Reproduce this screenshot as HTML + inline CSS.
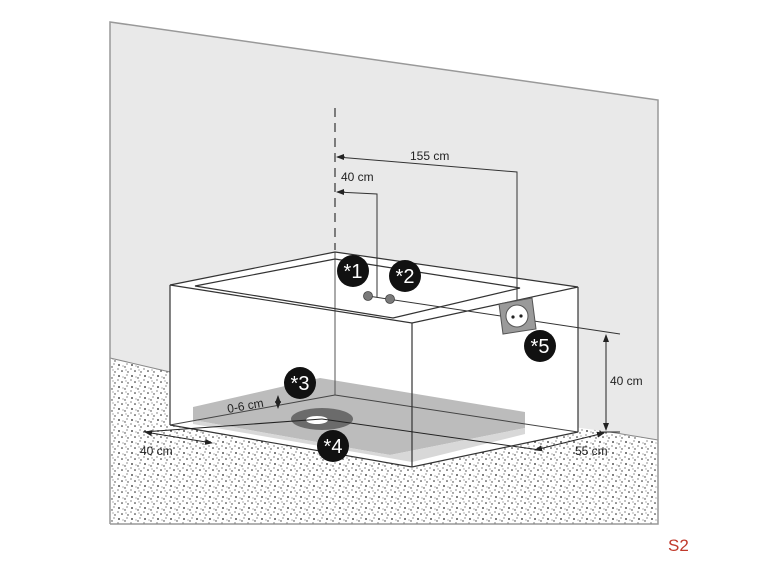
<!DOCTYPE html>
<html><head><style>
html,body{margin:0;padding:0;background:#fff;}
svg{display:block;}
text{font-family:"Liberation Sans",sans-serif;}
</style></head><body>
<svg width="770" height="578" viewBox="0 0 770 578" xmlns="http://www.w3.org/2000/svg">
<defs>
<pattern id="sp" width="13" height="11" patternUnits="userSpaceOnUse">
<rect width="13" height="11" fill="#fff"/>
<circle cx="2" cy="2" r="0.9" fill="#222"/>
<circle cx="8" cy="4" r="0.7" fill="#333"/>
<circle cx="5" cy="8" r="0.8" fill="#222"/>
<circle cx="11" cy="9" r="0.7" fill="#333"/>
<circle cx="10" cy="1" r="0.6" fill="#444"/>
<circle cx="1" cy="6" r="0.6" fill="#333"/>
<circle cx="6" cy="3" r="0.5" fill="#444"/>
<circle cx="9" cy="7" r="0.5" fill="#333"/>
</pattern>
<marker id="ar" markerWidth="8" markerHeight="8" refX="7" refY="4" orient="auto-start-reverse" markerUnits="userSpaceOnUse"><path d="M0,1 L8,4 L0,7 z" fill="#222"/></marker>
</defs>
<rect x="110" y="340" width="548" height="184" fill="url(#sp)"/>
<polygon points="110,22 658,100 658,440 610,432 170,372 110,358" fill="#e9e9e9"/>
<line x1="110" y1="358" x2="170" y2="372" stroke="#888" stroke-width="1"/>
<line x1="610" y1="432" x2="658" y2="440" stroke="#888" stroke-width="1"/>
<polyline points="110,524 110,22 658,100 658,524 110,524" fill="none" stroke="#999" stroke-width="1.5"/>
<polygon points="170,285 335,252 578,287 578,432 412,467 170,425" fill="#fff"/>
<polygon points="193,407 320,378 525,412 525,428 390,455 193,420" fill="#bcbcbc"/>
<polygon points="193,420 390,455 525,428 525,434 412,462 193,424" fill="#d8d8d8"/>
<line x1="335" y1="252" x2="335" y2="395" stroke="#555" stroke-width="1"/>
<line x1="335" y1="395" x2="578" y2="432" stroke="#444" stroke-width="1"/>
<line x1="170" y1="425" x2="335" y2="395" stroke="#444" stroke-width="1"/>
<ellipse cx="322" cy="419" rx="31" ry="11" fill="#6b6b6b"/>
<ellipse cx="317" cy="420" rx="11" ry="4" fill="#fff"/>
<g fill="none" stroke="#333" stroke-width="1.2">
<polygon points="170,285 335,252 578,287 412,323"/>
<polygon points="195,286 335,259 520,288 393,318"/>
<line x1="170" y1="285" x2="170" y2="425"/>
<line x1="412" y1="323" x2="412" y2="467"/>
<line x1="578" y1="287" x2="578" y2="432"/>
<polyline points="170,425 412,467 578,432"/>
</g>
<line x1="143" y1="432" x2="322" y2="419" stroke="#222" stroke-width="1"/>
<line x1="322" y1="419" x2="540" y2="450" stroke="#222" stroke-width="1"/>
<line x1="145" y1="432" x2="212" y2="443" stroke="#222" stroke-width="1" marker-start="url(#ar)" marker-end="url(#ar)"/>
<line x1="535" y1="450" x2="604" y2="433" stroke="#222" stroke-width="1" marker-start="url(#ar)" marker-end="url(#ar)"/>
<line x1="600" y1="432" x2="620" y2="432" stroke="#222" stroke-width="1"/>
<line x1="606" y1="335" x2="606" y2="430" stroke="#222" stroke-width="1" marker-start="url(#ar)" marker-end="url(#ar)"/>
<text x="140" y="455" font-size="12" fill="#222">40 cm</text>
<text x="575" y="455" font-size="12" fill="#222">55 cm</text>
<text x="610" y="385" font-size="12" fill="#222">40 cm</text>
<text x="228" y="413" font-size="12" fill="#222" transform="rotate(-10 228 413)">0-6 cm</text>
<line x1="278" y1="396" x2="278" y2="408" stroke="#222" stroke-width="1" marker-start="url(#ar)" marker-end="url(#ar)"/>
<line x1="335" y1="108" x2="335" y2="250" stroke="#333" stroke-width="1.2" stroke-dasharray="9,6"/>
<polyline points="337,157 517,172 517,305" fill="none" stroke="#333" stroke-width="1"/>
<line x1="345" y1="157" x2="337" y2="157" stroke="#333" marker-end="url(#ar)"/>
<polyline points="337,192 377,194 377,297" fill="none" stroke="#333" stroke-width="1"/>
<line x1="345" y1="192" x2="337" y2="192" stroke="#333" marker-end="url(#ar)"/>
<text x="410" y="160" font-size="12" fill="#222">155 cm</text>
<text x="341" y="181" font-size="12" fill="#222">40 cm</text>
<line x1="368" y1="296" x2="620" y2="334" stroke="#333" stroke-width="1"/>
<circle cx="368" cy="296" r="4.5" fill="#7a7a7a" stroke="#444" stroke-width="0.8"/>
<circle cx="390" cy="299" r="4.5" fill="#7a7a7a" stroke="#444" stroke-width="0.8"/>
<polygon points="499,304 532,298 536,329 503,334" fill="#9a9a9a" stroke="#555"/>
<circle cx="517" cy="316" r="11" fill="#fff" stroke="#555"/>
<circle cx="513" cy="317" r="1.6" fill="#222"/><circle cx="521" cy="316" r="1.6" fill="#222"/>
<g font-size="20" fill="#fff" text-anchor="middle">
<circle cx="353" cy="271" r="16" fill="#111"/><text x="353" y="278">*1</text>
<circle cx="405" cy="276" r="16" fill="#111"/><text x="405" y="283">*2</text>
<circle cx="300" cy="383" r="16" fill="#111"/><text x="300" y="390">*3</text>
<circle cx="333" cy="446" r="16" fill="#111"/><text x="333" y="453">*4</text>
<circle cx="540" cy="346" r="16" fill="#111"/><text x="540" y="353">*5</text>
</g>
<text x="668" y="551" font-size="17" fill="#c0392b">S2</text>
</svg>
</body></html>
